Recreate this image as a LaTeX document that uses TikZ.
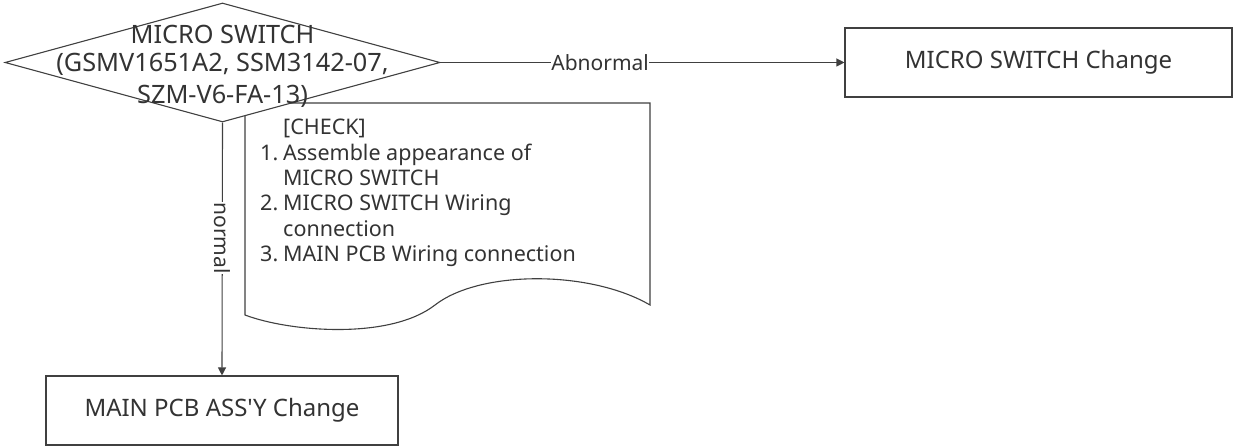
\documentclass[tikz,border=0pt]{standalone}
\usepackage{fontspec}
\setmainfont{Noto Sans}[Ligatures=TeXOff]
\usetikzlibrary{arrows.meta,shapes.geometric}
\definecolor{ln}{HTML}{404040}
\definecolor{tx}{HTML}{333333}
\tikzset{
  box/.style={draw=ln, line width=1.1pt, fill=white, text=tx, inner sep=0pt,
    minimum height=69pt, font=\fontsize{24}{28}\selectfont},
  conn/.style={draw=ln, line width=1.1pt, -{Triangle[length=8pt,width=8pt]}},
  lbl/.style={fill=white, inner sep=0.5pt, text=tx, font=\fontsize{21}{25}\selectfont},
  outline/.style={draw=ln, line width=1.1pt, fill=white},
}
\begin{document}
\begin{tikzpicture}[x=1pt,y=-1pt]
\useasboundingbox (0,0) rectangle (1234,446);
% document shape (check list), behind the diamond
\draw[outline] (245,103) -- (650,103) -- (650,305)
  .. controls (590,270) and (480,270) .. (435,305)
  .. controls (390,340) and (290,332) .. (245,315) -- cycle;
\node[anchor=north west, inner sep=0pt, align=left, text=tx,
  font=\fontsize{21.5}{25.4}\selectfont] (chk) at (260,119)
  {\hspace*{23pt}[CHECK]\\
   \makebox[23pt][l]{1.}Assemble appearance of\\
   \hspace*{23pt}MICRO SWITCH\\
   \makebox[23pt][l]{2.}MICRO SWITCH Wiring\\
   \hspace*{23pt}connection\\
   \makebox[23pt][l]{3.}MAIN PCB Wiring connection};
% decision
\node[outline, diamond, minimum width=435pt, minimum height=119pt, inner sep=0pt]
  (d) at (222.5,62.5) {};
\node[inner sep=0pt, align=center, text=tx, font=\fontsize{25.3}{32}\selectfont]
  (dtext) at (222.5,66.5)
  {\raisebox{-4pt}{MICRO SWITCH}\\(GSMV1651A2, SSM3142-07,\\SZM-V6-FA-13)};
% boxes
\node[box, minimum width=387pt] (ms) at (1038.5,62.5) {MICRO SWITCH Change};
\node[box, minimum width=352pt] (pcb) at (222,410.5) {MAIN PCB ASS'Y Change};
% connectors
\draw[conn] (d.east) -- node[lbl, pos=0.395] {Abnormal} (ms.west);
\draw[conn] (d.south) -- node[lbl, pos=0.457, rotate=-90] {normal} (pcb.north);
\end{tikzpicture}
\end{document}
